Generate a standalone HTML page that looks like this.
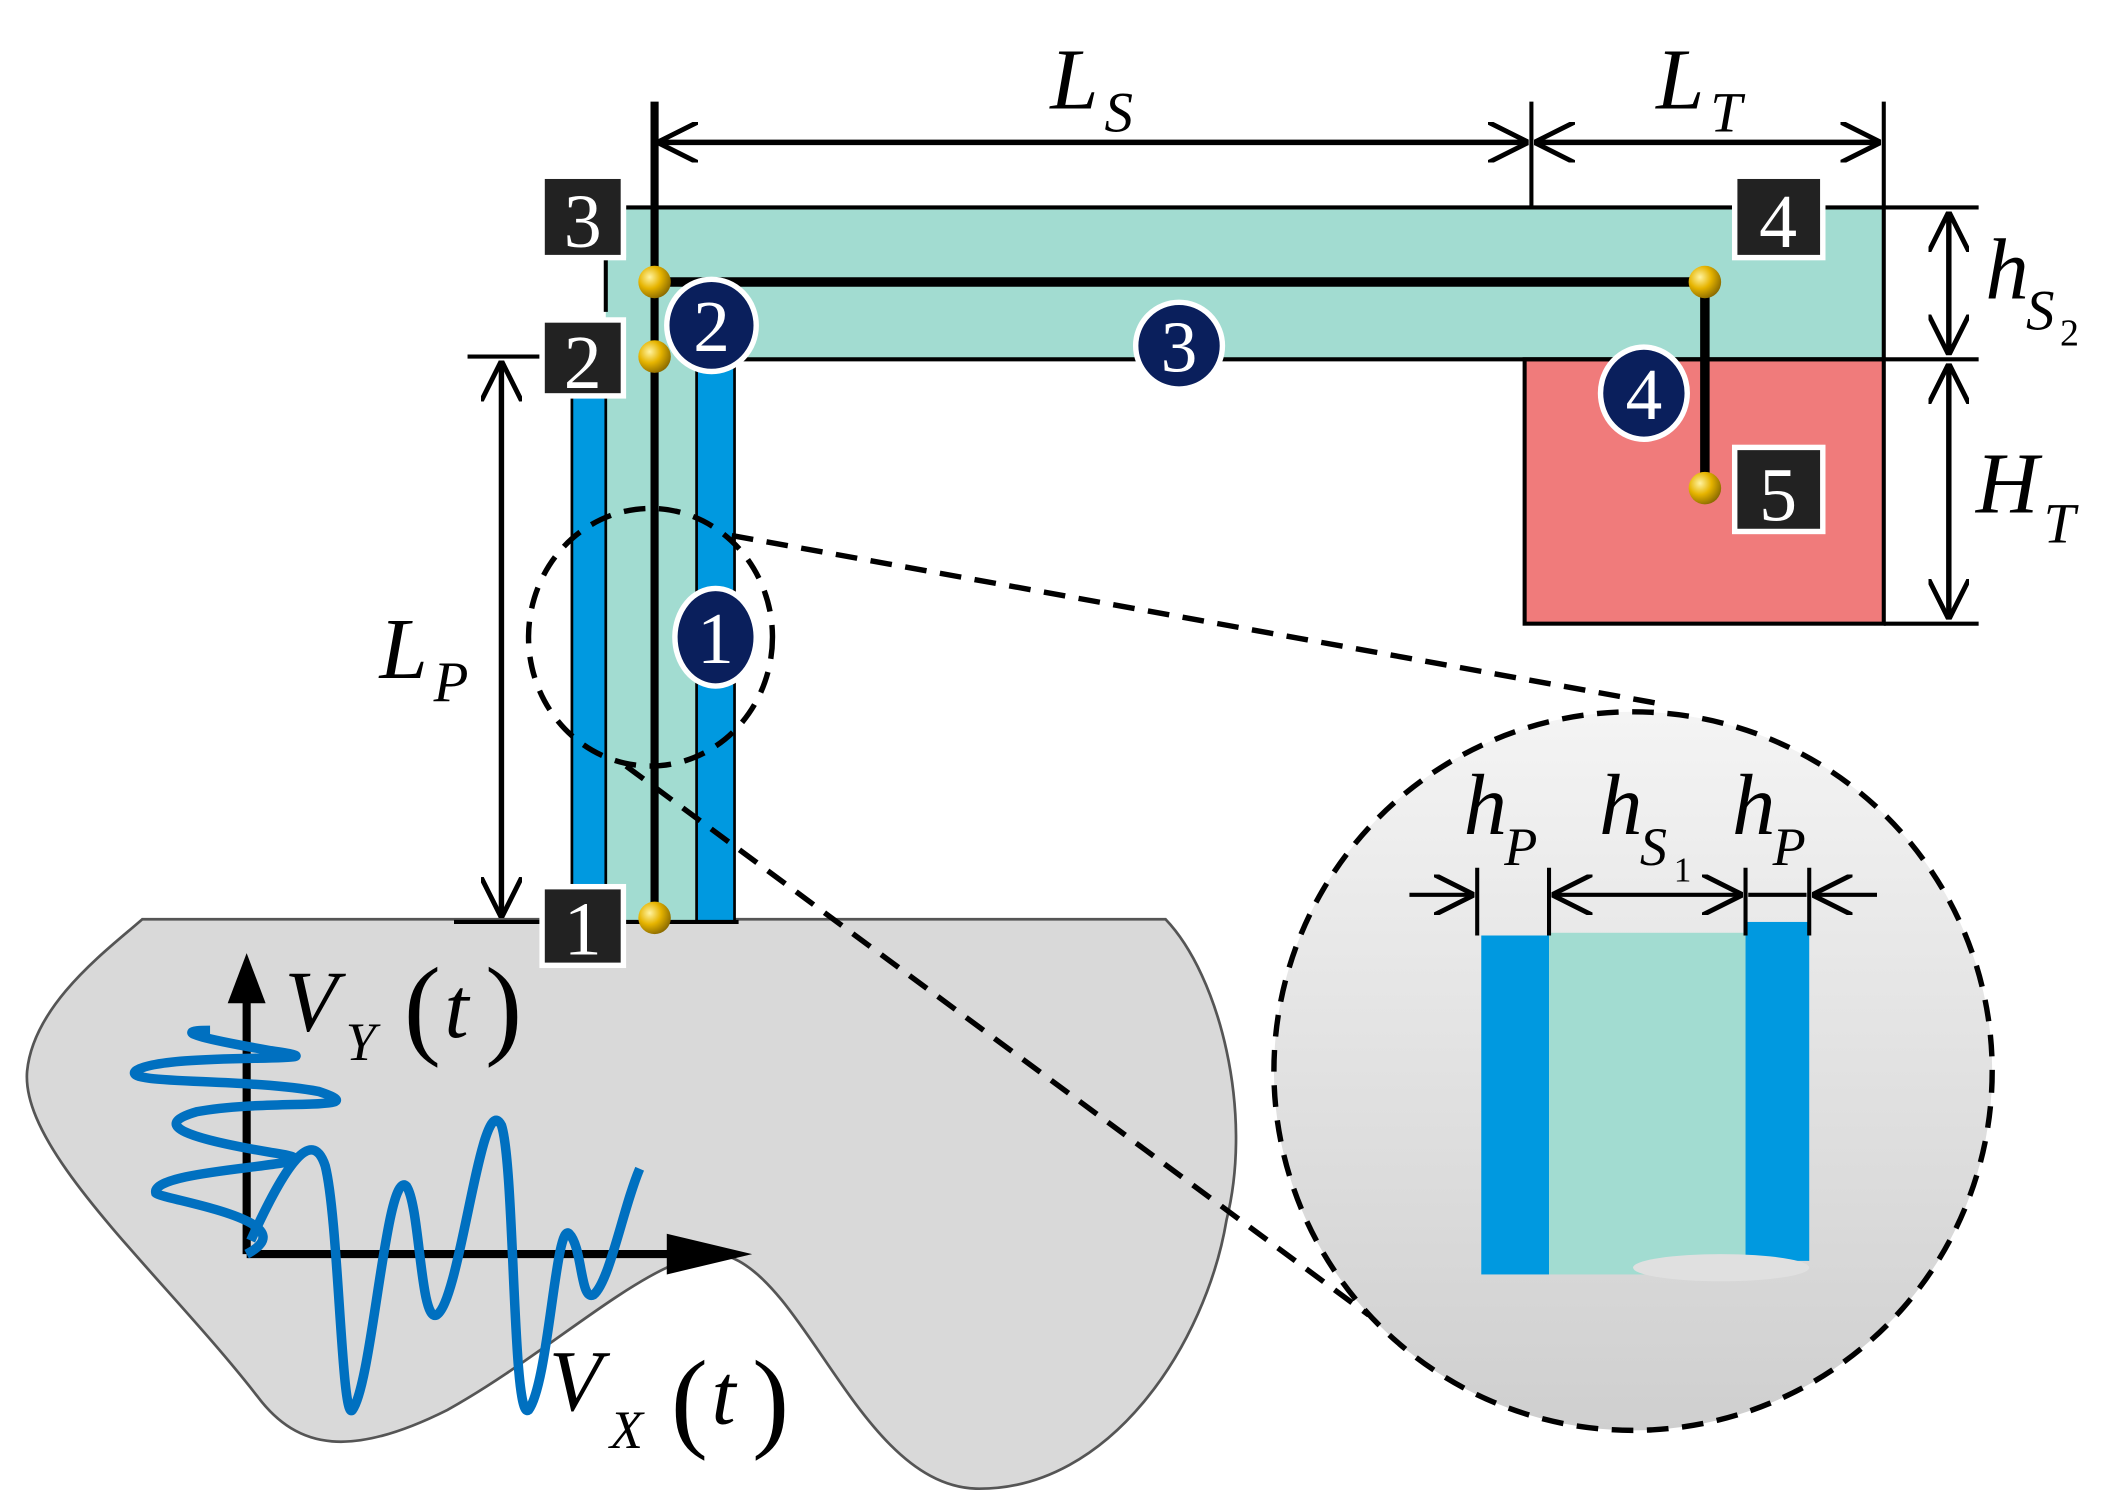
<!DOCTYPE html>
<html><head><style>html,body{margin:0;padding:0;background:#fff}svg{display:block}
text{font-family:"Liberation Serif","Times New Roman",serif;font-style:italic}</style></head><body>
<svg width="2125" height="1509" viewBox="0 0 1568 1113" preserveAspectRatio="none" xmlns="http://www.w3.org/2000/svg">
<defs>
<radialGradient id="gb" cx="0.35" cy="0.35" r="0.7"><stop offset="0" stop-color="#fff3a0"/><stop offset="0.5" stop-color="#e6b400"/><stop offset="1" stop-color="#8a6a00"/></radialGradient>
<linearGradient id="cg" x1="0" y1="0" x2="0" y2="1"><stop offset="0" stop-color="#f4f4f4"/><stop offset="1" stop-color="#cfcfcf"/></linearGradient>
<marker id="ar" viewBox="0 0 10 10" refX="10" refY="5" markerWidth="30" markerHeight="30" orient="auto-start-reverse" markerUnits="userSpaceOnUse"><path d="M0,0 L10,5 L0,10" fill="none" stroke="#000" stroke-width="1.2"/></marker>
</defs>
<path d="M105,678 L860,678 C900,720 925,820 905,900 C890,990 820,1100 720,1098 C640,1095 600,960 545,930 C500,905 420,990 330,1040 C260,1075 220,1070 190,1030 C120,940 15,850 20,790 C25,740 80,700 105,678 Z" fill="#d9d9d9" stroke="#555" stroke-width="2"/>
<rect x="447" y="190" width="67" height="490" fill="#a2dcd1"/>
<rect x="462" y="153" width="928" height="112" fill="#a2dcd1"/>
<rect x="422" y="270" width="25" height="410" fill="#0099e0" stroke="#000" stroke-width="2"/>
<rect x="514" y="270" width="28" height="410" fill="#0099e0" stroke="#000" stroke-width="2"/>
<rect x="1125" y="265" width="265" height="195" fill="#f07b7b" stroke="#000" stroke-width="3"/>
<g stroke="#000" stroke-width="3" fill="none">
<line x1="462" y1="153" x2="1460" y2="153"/>
<line x1="540" y1="265" x2="1460" y2="265"/>
<line x1="1390" y1="75" x2="1390" y2="265"/>
<line x1="1130" y1="75" x2="1130" y2="153"/>
<line x1="1390" y1="460" x2="1460" y2="460"/>
<line x1="447" y1="190" x2="447" y2="230"/>
<line x1="335" y1="680" x2="545" y2="680"/>
<line x1="345" y1="263" x2="400" y2="263"/>
</g>
<line x1="483" y1="75" x2="483" y2="680" stroke="#000" stroke-width="6"/>
<polyline points="483,208 1258,208 1258,360" stroke="#000" stroke-width="7" fill="none"/>
<g stroke="#000" stroke-width="4" fill="none">
<line x1="485" y1="105" x2="1128" y2="105" marker-start="url(#ar)" marker-end="url(#ar)"/>
<line x1="1132" y1="105" x2="1388" y2="105" marker-start="url(#ar)" marker-end="url(#ar)"/>
<line x1="1438" y1="156" x2="1438" y2="262" marker-start="url(#ar)" marker-end="url(#ar)"/>
<line x1="1438" y1="268" x2="1438" y2="457" marker-start="url(#ar)" marker-end="url(#ar)"/>
<line x1="370" y1="266" x2="370" y2="677" marker-start="url(#ar)" marker-end="url(#ar)"/>
</g>
<g fill="url(#gb)"><circle cx="483" cy="208" r="12"/><circle cx="483" cy="263" r="12"/><circle cx="483" cy="677" r="12"/><circle cx="1258" cy="208" r="12"/><circle cx="1258" cy="360" r="12"/></g>
<g font-size="56" text-anchor="middle" fill="#fff">
<rect x="400" y="130" width="60" height="60" fill="#222" stroke="#fff" stroke-width="4"/><text x="430" y="182" style="font-style:normal">3</text>
<rect x="400" y="236" width="60" height="56" fill="#222" stroke="#fff" stroke-width="4"/><text x="430" y="286" style="font-style:normal">2</text>
<rect x="400" y="654" width="60" height="58" fill="#222" stroke="#fff" stroke-width="4"/><text x="430" y="704" style="font-style:normal">1</text>
<rect x="1280" y="130" width="65" height="60" fill="#222" stroke="#fff" stroke-width="4"/><text x="1312" y="182" style="font-style:normal">4</text>
<rect x="1280" y="330" width="65" height="62" fill="#222" stroke="#fff" stroke-width="4"/><text x="1312" y="384" style="font-style:normal">5</text>
</g>
<g fill="#0a1f5c" stroke="#fff" stroke-width="4">
<ellipse cx="528" cy="470" rx="30" ry="36"/><ellipse cx="525" cy="240" rx="33" ry="34"/><ellipse cx="870" cy="255" rx="32" ry="32"/><ellipse cx="1213" cy="290" rx="32" ry="34"/>
</g>
<g font-size="54" text-anchor="middle" fill="#fff">
<text x="528" y="489" style="font-style:normal">1</text><text x="525" y="259" style="font-style:normal">2</text><text x="870" y="274" style="font-style:normal">3</text><text x="1213" y="309" style="font-style:normal">4</text>
</g>
<circle cx="1205" cy="790" r="265" fill="url(#cg)" stroke="#000" stroke-width="4" stroke-dasharray="16,10"/>
<rect x="1093" y="690" width="50" height="250" fill="#0099e0"/>
<rect x="1143" y="688" width="145" height="252" fill="#a2dcd1"/>
<rect x="1288" y="680" width="47" height="250" fill="#0099e0"/>
<ellipse cx="1270" cy="935" rx="65" ry="10" fill="#e0e0e0"/>
<g stroke="#000" stroke-width="3">
<line x1="1090" y1="640" x2="1090" y2="690"/><line x1="1143" y1="640" x2="1143" y2="690"/><line x1="1288" y1="640" x2="1288" y2="690"/><line x1="1335" y1="640" x2="1335" y2="690"/>
<line x1="1040" y1="660" x2="1088" y2="660" marker-end="url(#ar)"/>
<line x1="1145" y1="660" x2="1286" y2="660" marker-start="url(#ar)" marker-end="url(#ar)"/>
<line x1="1290" y1="660" x2="1333" y2="660"/>
<line x1="1385" y1="660" x2="1337" y2="660" marker-end="url(#ar)"/>
</g>
<g stroke="#000" stroke-width="4" stroke-dasharray="16,10" fill="none">
<ellipse cx="480" cy="470" rx="90" ry="95"/>
<line x1="540" y1="395" x2="1230" y2="520"/>
<line x1="462" y1="565" x2="1010" y2="970"/>
</g>
<g stroke="#000" stroke-width="6"><line x1="182" y1="925" x2="182" y2="735"/><line x1="182" y1="925" x2="515" y2="925"/></g>
<polygon points="182,703 168,740 196,740" fill="#000"/><polygon points="555,925 492,910 492,940" fill="#000"/>
<path d="M182,925 C230,900 120,885 115,880 C110,860 270,860 200,850 C140,840 110,830 145,820 C200,810 280,820 235,805 C180,795 90,800 100,790 C120,775 270,785 200,775 C160,768 120,760 155,760" fill="none" stroke="#0070c0" stroke-width="7"/>
<path d="M185,915 C210,860 230,830 240,860 C250,900 252,1050 260,1040 C275,1020 285,860 300,875 C310,890 310,975 322,970 C340,960 355,800 370,830 C380,860 378,1050 390,1040 C405,1020 410,900 420,910 C430,920 428,960 438,955 C450,945 460,890 472,862" fill="none" stroke="#0070c0" stroke-width="7"/>
<g font-size="64" fill="#000">
<text x="775" y="80">L</text><text x="815" y="97" font-size="42">S</text>
<text x="1222" y="80">L</text><text x="1262" y="97" font-size="42">T</text>
<text x="280" y="500">L</text><text x="320" y="517" font-size="42">P</text>
<text x="1465" y="220">h</text><text x="1495" y="243" font-size="42">S</text><text x="1520" y="255" font-size="28" style="font-style:normal">2</text>
<text x="1458" y="378">H</text><text x="1508" y="400" font-size="42">T</text>
<text x="1080" y="615">h</text><text x="1110" y="638" font-size="40">P</text>
<text x="1180" y="615">h</text><text x="1210" y="638" font-size="40">S</text><text x="1235" y="650" font-size="26" style="font-style:normal">1</text>
<text x="1278" y="615">h</text><text x="1308" y="638" font-size="40">P</text>
<text x="210" y="760">V</text><text x="255" y="782" font-size="40">Y</text><text x="298" y="770" font-size="82" style="font-style:normal">(</text><text x="328" y="765">t</text><text x="358" y="770" font-size="82" style="font-style:normal">)</text>
<text x="405" y="1040">V</text><text x="450" y="1068" font-size="40">X</text><text x="495" y="1060" font-size="82" style="font-style:normal">(</text><text x="525" y="1050">t</text><text x="555" y="1060" font-size="82" style="font-style:normal">)</text>
</g>
</svg>
</body></html>
